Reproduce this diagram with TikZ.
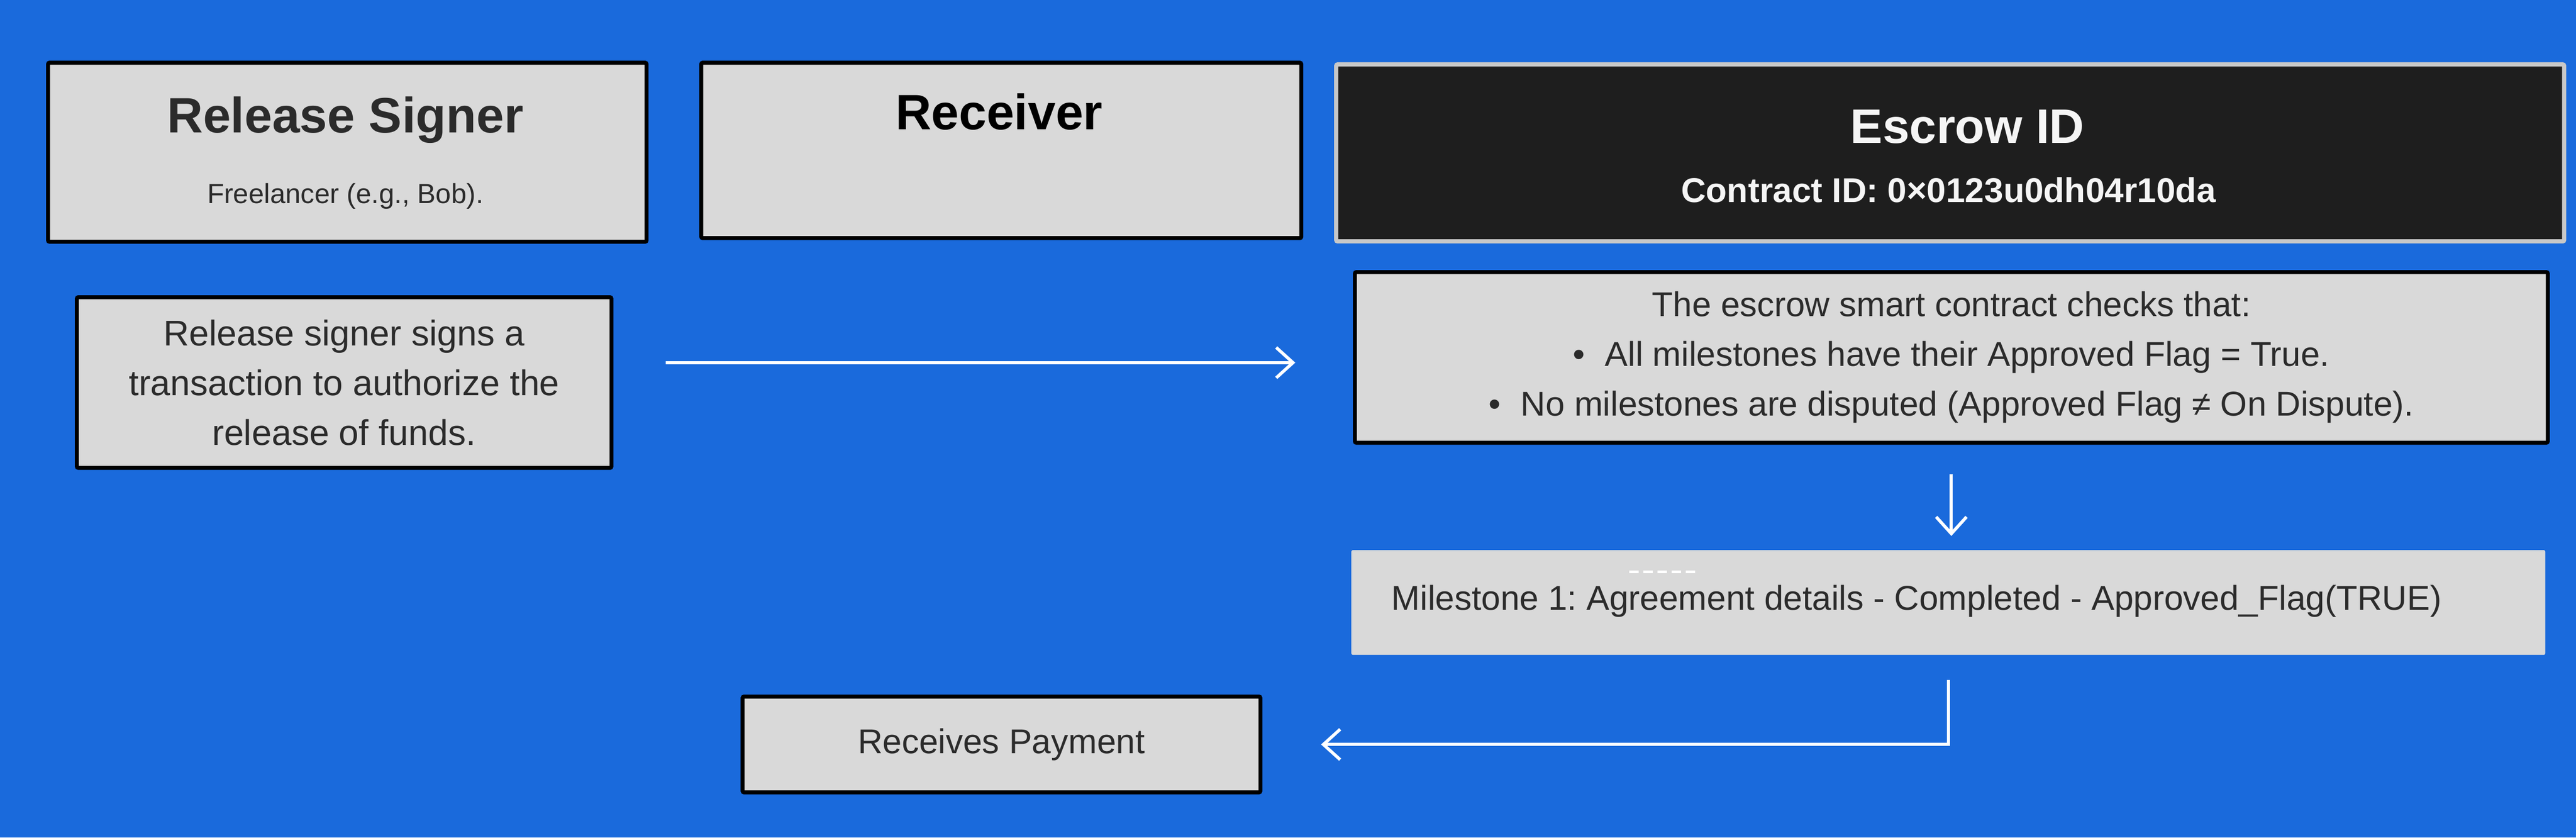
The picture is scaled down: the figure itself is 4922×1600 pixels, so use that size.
\documentclass[tikz,border=0pt]{standalone}
\usepackage{fontspec}
\setmainfont{Liberation Sans}
\usetikzlibrary{arrows.meta, positioning}

\definecolor{bgblue}{RGB}{26,106,220}
\definecolor{boxgray}{RGB}{217,217,217}
\definecolor{darkbox}{RGB}{30,30,30}
\definecolor{txtgray}{RGB}{43,43,43}
\definecolor{rimgray}{RGB}{200,200,200}

\tikzset{
  card/.style={draw=black, line width=0.075cm, fill=boxgray, rounded corners=0.03cm, inner sep=0pt},
  title/.style={font=\fontsize{27pt}{32pt}\selectfont\bfseries, text=txtgray, inner sep=0pt},
  body/.style={font=\fontsize{18.7pt}{27pt}\selectfont, text=txtgray, inner sep=0pt, align=center},
  flow/.style={draw=white, line width=0.06cm, -{Straight Barb[length=0.32cm,width=0.58cm]}},
}

\begin{document}
\frenchspacing
\begin{tikzpicture}[x=0.01cm, y=-0.01cm]
\fill[bgblue] (0,0) rectangle (4922,1600);
\useasboundingbox (0,0) rectangle (4922,1600);
% top row of cards
\node[card, anchor=north west, minimum width=11.43cm, minimum height=3.42cm] (signer) at (88,116) {};
\node[card, anchor=north west, minimum width=11.46cm, minimum height=3.35cm] (recv) at (1336,116) {};
\node[card, draw=rimgray, fill=darkbox, line width=0.08cm, anchor=north west, minimum width=23.45cm, minimum height=3.38cm] (escrow) at (2549,119) {};
\node[title, anchor=base] (signertitle) at (660,253) {Release Signer};
\node[font=\fontsize{15pt}{18pt}\selectfont, text=txtgray, inner sep=0pt, anchor=base] (signernote) at (660,388) {Freelancer (e.g., Bob).};
\node[title, text=black, anchor=base] (recvtitle) at (1909,247) {Receiver};
\node[title, font=\fontsize{26.3pt}{32pt}\selectfont\bfseries, text=white!96!black, anchor=base] (escrowtitle) at (3759,273) {Escrow ID};
\node[body, font=\fontsize{18.7pt}{22pt}\selectfont\bfseries, text=white!96!black, anchor=base] (contract) at (3723,386) {Contract ID: 0×0123u0dh04r10da};
% second row
\node[card, anchor=north west, minimum width=10.21cm, minimum height=3.26cm] (sign) at (143,564) {};
\node[body, font=\fontsize{19.4pt}{27pt}\selectfont] (signtext) at (sign.center) {Release signer signs a\\transaction to authorize the\\release of funds.};
\node[card, anchor=north west, minimum width=22.78cm, minimum height=3.26cm] (chk) at (2585,516) {};
\node[body] (chktext) at (chk.center) {The escrow smart contract checks that:\\\textbullet\hspace{0.38cm}All milestones have their Approved Flag = True.\\\textbullet\hspace{0.38cm}No milestones are disputed (Approved Flag ≠ On Dispute).};
% milestone and payment
\node[fill=boxgray, rounded corners=0.03cm, inner sep=0pt, outer sep=0pt, anchor=north west, minimum width=22.8cm, minimum height=2cm] (ms) at (2582,1051) {};
\draw[white, line width=0.05cm, dash pattern=on 0.18cm off 0.09cm] (3113,1092) -- (3245,1092);
\node[body, anchor=base west] (mstext) at (2658,1165) {Milestone 1: Agreement details - Completed - Approved\_Flag(TRUE)};
\node[card, anchor=north west, minimum width=9.89cm, minimum height=1.83cm] (pay) at (1415,1327) {};
\node[body] (paytext) at (pay.center) {Receives Payment};
% arrows
\coordinate (row) at ([yshift=-0.1cm]chk.west);
\draw[flow, shorten <=1cm, shorten >=1.1cm] (row -| sign.east) -- (row);
\draw[flow, shorten <=0.56cm, shorten >=0.27cm] (chk.south) -- (chk.south |- ms.north);
\draw[flow, shorten <=0.48cm, shorten >=1.12cm] (ms.south) |- (pay.east);
\end{tikzpicture}
\end{document}
